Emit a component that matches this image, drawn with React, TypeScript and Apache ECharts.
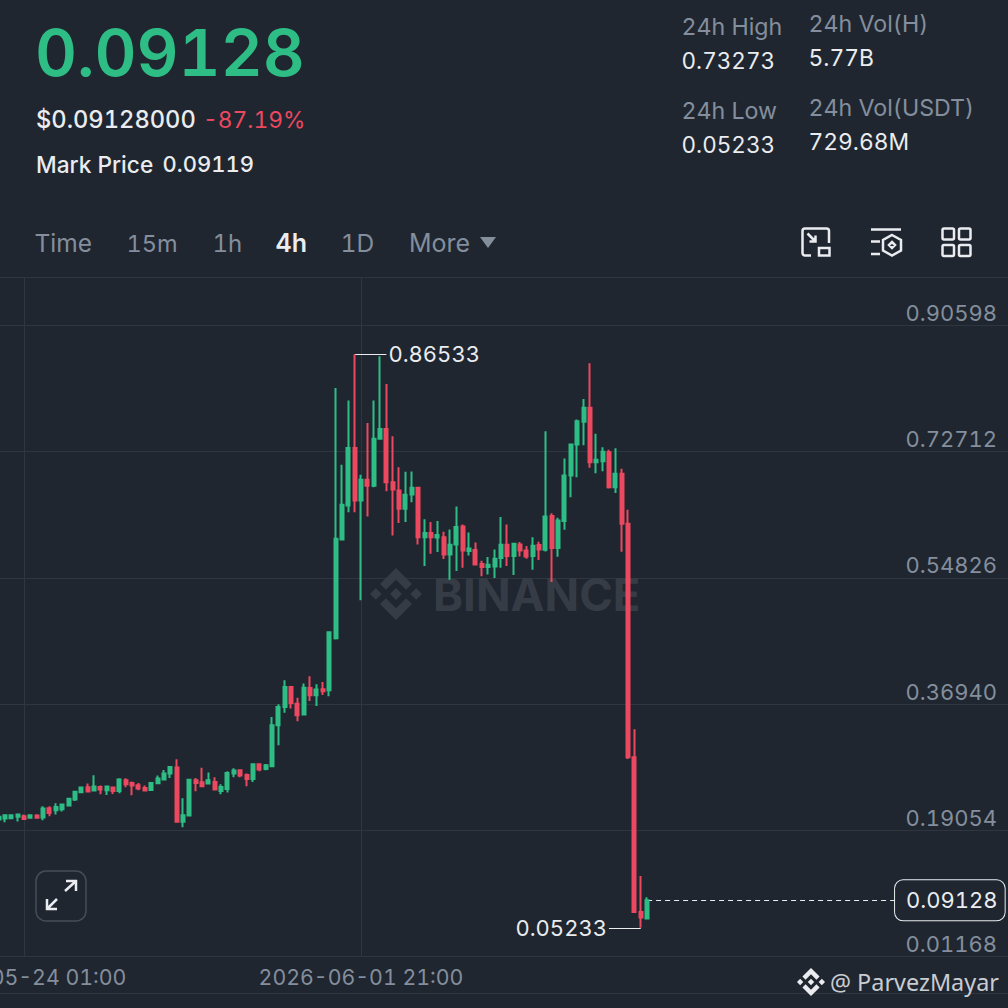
import React, { useEffect, useRef } from "react";
import * as echarts from "echarts";

const BG = "#1f2630";
const UP = "#2ebd85";
const DOWN = "#ec4860";
const GRID = "#30363f";
const MUTED = "#848e9c";
const WHITE = "#eaecef";
const FONT = "Inter";

// 4h candles, [open, close, low, high]
const candles: number[][] = [
  [0.2058, 0.2096, 0.205, 0.21],
  [0.2072, 0.2119, 0.202, 0.2133],
  [0.2077, 0.2119, 0.2067, 0.2124],
  [0.2096, 0.2129, 0.203, 0.2133],
  [0.2105, 0.2067, 0.2058, 0.2129],
  [0.2082, 0.2119, 0.2077, 0.2124],
  [0.2115, 0.2082, 0.2077, 0.2133],
  [0.2086, 0.2214, 0.2048, 0.2247],
  [0.2218, 0.2152, 0.2105, 0.2247],
  [0.219, 0.2237, 0.2129, 0.2289],
  [0.2204, 0.227, 0.2171, 0.228],
  [0.2256, 0.2351, 0.2251, 0.2355],
  [0.2341, 0.245, 0.2322, 0.2459],
  [0.2445, 0.2511, 0.244, 0.2516],
  [0.2516, 0.2454, 0.2445, 0.2568],
  [0.2469, 0.2525, 0.2464, 0.2686],
  [0.252, 0.2483, 0.2417, 0.2539],
  [0.2473, 0.2525, 0.2407, 0.253],
  [0.2511, 0.2464, 0.2421, 0.252],
  [0.2464, 0.2624, 0.2431, 0.2643],
  [0.2615, 0.2558, 0.2516, 0.2643],
  [0.2577, 0.2539, 0.2402, 0.2596],
  [0.2544, 0.2497, 0.2473, 0.2577],
  [0.2506, 0.2469, 0.2464, 0.2539],
  [0.2478, 0.2577, 0.2473, 0.2582],
  [0.2572, 0.2638, 0.2558, 0.2681],
  [0.2624, 0.2709, 0.2615, 0.2761],
  [0.2709, 0.2804, 0.2648, 0.2808],
  [0.2794, 0.2025, 0.2011, 0.2912],
  [0.2025, 0.2119, 0.1949, 0.236],
  [0.2115, 0.262, 0.211, 0.2624],
  [0.2615, 0.2577, 0.2459, 0.2648],
  [0.2587, 0.253, 0.2516, 0.279],
  [0.2568, 0.2615, 0.2558, 0.2723],
  [0.2591, 0.2483, 0.2473, 0.2657],
  [0.2464, 0.252, 0.2417, 0.2558],
  [0.2492, 0.2719, 0.244, 0.2742],
  [0.2709, 0.2752, 0.2657, 0.2785],
  [0.2756, 0.2681, 0.2657, 0.2771],
  [0.269, 0.2634, 0.253, 0.2709],
  [0.2634, 0.2841, 0.2591, 0.2846],
  [0.2841, 0.2766, 0.2742, 0.2851],
  [0.2775, 0.2827, 0.2756, 0.2846],
  [0.2813, 0.3394, 0.2804, 0.3512],
  [0.3394, 0.3653, 0.311, 0.3691],
  [0.3653, 0.3936, 0.3573, 0.4031],
  [0.3936, 0.371, 0.363, 0.3951],
  [0.37, 0.3535, 0.345, 0.3785],
  [0.3545, 0.3927, 0.3535, 0.3984],
  [0.3922, 0.3818, 0.3738, 0.4088],
  [0.3818, 0.3899, 0.3667, 0.3974],
  [0.3903, 0.3875, 0.3823, 0.4007],
  [0.3891, 0.4712, 0.3806, 0.472],
  [0.4627, 0.6037, 0.461, 0.8175],
  [0.6027, 0.6518, 0.6013, 0.7085],
  [0.6509, 0.7325, 0.6414, 0.7996],
  [0.7325, 0.658, 0.6414, 0.86533],
  [0.658, 0.6872, 0.5164, 0.6943],
  [0.6872, 0.6787, 0.6353, 0.7679],
  [0.6787, 0.7453, 0.6768, 0.7996],
  [0.7453, 0.7594, 0.7444, 0.8623],
  [0.7594, 0.6839, 0.6712, 0.8232],
  [0.6839, 0.6735, 0.6084, 0.7491],
  [0.6721, 0.6462, 0.6259, 0.7052],
  [0.6462, 0.666, 0.6273, 0.6986],
  [0.6665, 0.6759, 0.6556, 0.699],
  [0.6759, 0.606, 0.5957, 0.6765],
  [0.606, 0.6117, 0.565, 0.6315],
  [0.6117, 0.606, 0.5824, 0.6273],
  [0.6056, 0.6089, 0.5848, 0.6287],
  [0.606, 0.5815, 0.5749, 0.6136],
  [0.5815, 0.5952, 0.5456, 0.6169],
  [0.5957, 0.6202, 0.5579, 0.6495],
  [0.6212, 0.5872, 0.5626, 0.624],
  [0.5862, 0.59, 0.5801, 0.6127],
  [0.5876, 0.5673, 0.5669, 0.5985],
  [0.5678, 0.5636, 0.5504, 0.5725],
  [0.5636, 0.5669, 0.5532, 0.5777],
  [0.5645, 0.5754, 0.548, 0.5886],
  [0.5763, 0.5952, 0.5626, 0.6344],
  [0.5952, 0.5791, 0.565, 0.624],
  [0.5791, 0.5966, 0.5522, 0.598],
  [0.5957, 0.5872, 0.5787, 0.599],
  [0.5872, 0.5787, 0.5754, 0.5933],
  [0.5791, 0.5938, 0.5598, 0.606],
  [0.5947, 0.5886, 0.5735, 0.5994],
  [0.5881, 0.6353, 0.5858, 0.7561],
  [0.6358, 0.5905, 0.5423, 0.64],
  [0.5905, 0.6296, 0.5782, 0.6334],
  [0.6287, 0.6934, 0.6164, 0.7174],
  [0.6934, 0.7373, 0.6627, 0.7378],
  [0.7373, 0.7703, 0.691, 0.7727],
  [0.7694, 0.7892, 0.7363, 0.8019],
  [0.7892, 0.7122, 0.7042, 0.8524],
  [0.7122, 0.7156, 0.6967, 0.7524],
  [0.7137, 0.7269, 0.6995, 0.7335],
  [0.7264, 0.6768, 0.675, 0.7297],
  [0.6768, 0.6957, 0.6684, 0.7321],
  [0.6957, 0.6249, 0.5853, 0.7028],
  [0.6249, 0.2942, 0.2917, 0.6448],
  [0.2942, 0.0747, 0.0742, 0.3338],
  [0.0747, 0.0668, 0.05233, 0.1256],
  [0.0657, 0.09128, 0.065, 0.0955],
];

const priceTicks = [0.01168, 0.19054, 0.3694, 0.54826, 0.72712, 0.90598];
const yMin = 0.01168;
const yMax = 0.97396;
const highPrice = 0.86533;
const lowPrice = 0.05233;
const lastPrice = 0.09128;
const timeLabelIndexes = [4, 57];
const slotCount = 160;
const highIndex = 56;
const lowIndex = 101;
const lastIndex = 102;

const pad = (n: number) => String(n).padStart(2, "0");
const firstSlot = Date.UTC(2026, 4, 23, 9);
const categories = Array.from({ length: slotCount }, (_, i) => {
  const d = new Date(firstSlot + i * 4 * 3600 * 1000);
  return `${d.getUTCFullYear()}-${pad(d.getUTCMonth() + 1)}-${pad(d.getUTCDate())} ${pad(d.getUTCHours())}:${pad(d.getUTCMinutes())}`;
});

const LOGO =
  "M9.79 13.45 16 7.24l6.21 6.21 3.61-3.61L16 0 6.18 9.82l3.61 3.63zM0 16l3.61-3.61L7.22 16l-3.61 3.61L0 16zm9.79 2.55L16 24.76l6.21-6.21 3.61 3.61L16 32l-9.82-9.82 3.61-3.63zM24.78 16l3.61-3.61L32 16l-3.61 3.61L24.78 16zM19.67 16 16 12.33 12.33 16 16 19.67 19.67 16z";
const ICON_EXPAND =
  "M822 228.5H805a2.5 2.5 0 0 0-2.5 2.5V253a2.5 2.5 0 0 0 2.5 2.5H811M829 243V231a2.5 2.5 0 0 0-2.5-2.5H820M807.5 233.5L815.5 241.5M815.5 235.5V241.5H809.5M819 248H829.5V255.5H819Z";
const ICON_SETTINGS =
  "M871 229.5H901M871 241.5H880M871 254H880M892 235L901 240V250.5L892 255.5L883 250.5V240ZM892 242L895 245L892 248L889 245Z";
const ICON_GRID =
  "M944 228.5H952.5a1.5 1.5 0 0 1 1.5 1.5V238a1.5 1.5 0 0 1-1.5 1.5H944a1.5 1.5 0 0 1-1.5-1.5V230a1.5 1.5 0 0 1 1.5-1.5ZM960.5 228.5H969a1.5 1.5 0 0 1 1.5 1.5V238a1.5 1.5 0 0 1-1.5 1.5H960.5a1.5 1.5 0 0 1-1.5-1.5V230a1.5 1.5 0 0 1 1.5-1.5ZM944 245H952.5a1.5 1.5 0 0 1 1.5 1.5V254.5a1.5 1.5 0 0 1-1.5 1.5H944a1.5 1.5 0 0 1-1.5-1.5V246.5a1.5 1.5 0 0 1 1.5-1.5ZM960.5 245H969a1.5 1.5 0 0 1 1.5 1.5V254.5a1.5 1.5 0 0 1-1.5 1.5H960.5a1.5 1.5 0 0 1-1.5-1.5V246.5a1.5 1.5 0 0 1 1.5-1.5Z";
const ICON_ARROWS =
  "M47 909L57 899M47 899V909H57M65 891L76 881M66 881H76V891";

echarts.graphic.registerShape("bnbLogo", echarts.graphic.extendPath(LOGO as any, {}) as any);
echarts.graphic.registerShape("iconExpand", echarts.graphic.extendPath(ICON_EXPAND as any, {}) as any);
echarts.graphic.registerShape("iconSettings", echarts.graphic.extendPath(ICON_SETTINGS as any, {}) as any);
echarts.graphic.registerShape("iconGrid", echarts.graphic.extendPath(ICON_GRID as any, {}) as any);
echarts.graphic.registerShape("iconArrows", echarts.graphic.extendPath(ICON_ARROWS as any, {}) as any);

const txt = (
  text: string,
  x: number,
  y: number,
  size: number,
  fill: string,
  weight: number | string = 400,
  family: string = FONT
) => ({
  type: "text",
  x,
  y,
  z: 1,
  silent: true,
  style: { text, fill, fontSize: size, fontWeight: weight, fontFamily: family, align: "left", verticalAlign: "middle" },
});

const stroke = (type: string) => ({
  type,
  x: 0,
  y: 0,
  z: 1,
  silent: true,
  style: { fill: "none", stroke: WHITE, lineWidth: 2.5 },
});

const hline = (y: number) => ({
  type: "line",
  z: 0,
  silent: true,
  shape: { x1: 0, y1: y, x2: 1008, y2: y },
  style: { stroke: GRID, lineWidth: 1 },
});

export default function App() {
  const ref = useRef<HTMLDivElement>(null);
  useEffect(() => {
    document.body.style.margin = "0";
    document.body.style.background = BG;
    const chart = echarts.init(ref.current!, undefined, { renderer: "svg" });
    chart.setOption({
      animation: false,
      backgroundColor: BG,
      textStyle: { fontFamily: FONT },
      grid: { left: -4.6, width: 1017.28, top: 277.5, height: 679, outerBoundsMode: "none", containLabel: false },
      xAxis: {
        type: "category",
        data: categories,
        boundaryGap: true,
        axisLine: { show: true, lineStyle: { color: GRID, width: 1 } },
        axisTick: { show: false, alignWithLabel: true },
        splitLine: {
          show: true,
          alignWithLabel: true,
          interval: (i: number) => timeLabelIndexes.includes(i),
          lineStyle: { color: GRID, width: 1 },
        },
        axisLabel: {
          color: MUTED,
          fontSize: 21.3,
          fontFamily: FONT,
          margin: 10,
          hideOverlap: false,
          interval: (i: number) => timeLabelIndexes.includes(i),
        },
      },
      yAxis: {
        type: "value",
        position: "right",
        min: yMin,
        max: yMax,
        scale: true,
        axisLine: { show: false },
        axisTick: { show: false, customValues: priceTicks },
        splitLine: { show: true, lineStyle: { color: GRID, width: 1 } },
        axisLabel: {
          customValues: priceTicks,
          inside: true,
          margin: 15.7,
          color: MUTED,
          fontSize: 22,
          fontFamily: FONT,
          verticalAlign: "bottom",
          verticalAlignMinLabel: "bottom",
          verticalAlignMaxLabel: "bottom",
          lineHeight: 25,
          formatter: (v: number) => v.toFixed(5),
        },
      },
      series: [
        {
          type: "candlestick",
          data: candles,
          barWidth: 3.5,
          z: 5,
          itemStyle: {
            color: UP,
            color0: DOWN,
            borderColor: UP,
            borderColor0: DOWN,
            borderWidth: 2,
          },
          markLine: {
            silent: true,
            animation: false,
            symbol: ["none", "none"],
            data: [
              [
                {
                  coord: [highIndex, highPrice],
                  lineStyle: { color: WHITE, width: 1, type: "solid" },
                  label: { show: true, position: "end", distance: 2, formatter: highPrice.toFixed(5), color: WHITE, fontSize: 22, fontFamily: FONT },
                },
                { coord: [highIndex + 5, highPrice] },
              ],
              [
                {
                  coord: [lowIndex, lowPrice],
                  lineStyle: { color: WHITE, width: 1, type: "solid" },
                  label: { show: true, position: "end", distance: 2, formatter: lowPrice.toFixed(5), color: WHITE, fontSize: 22, fontFamily: FONT },
                },
                { coord: [lowIndex - 5, lowPrice] },
              ],
              [
                {
                  coord: [lastIndex, lastPrice],
                  lineStyle: { color: WHITE, width: 1, type: [5, 4] },
                  label: {
                    show: true,
                    position: "end",
                    distance: 0,
                    formatter: lastPrice.toFixed(5),
                    color: WHITE,
                    fontSize: 22,
                    fontFamily: FONT,
                    backgroundColor: BG,
                    borderColor: WHITE,
                    borderWidth: 1,
                    borderRadius: 8,
                    padding: [9, 16, 9, 11],
                  },
                },
                { coord: [lastIndex + 39, lastPrice] },
              ],
            ],
          },
        },
      ],
      graphic: [
        hline(277.5),
        hline(993.5),
        // header
        txt("0.09128", 35, 52, 65, UP, 600),
        txt("$0.09128000", 36, 119, 23.7, WHITE, 500),
        txt("-87.19%", 203, 119, 22.8, DOWN, 400),
        txt("Mark Price", 36, 164, 22.7, WHITE, 500),
        txt("0.09119", 162.5, 164, 22, WHITE, 500),
        txt("24h High", 681.5, 27, 23.2, MUTED),
        txt("0.73273", 681.5, 60, 22.5, WHITE),
        txt("24h Low", 681.5, 111, 23.2, MUTED),
        txt("0.05233", 681.5, 144, 22.5, WHITE),
        txt("24h Vol(H)", 808.5, 24, 23.2, MUTED),
        txt("5.77B", 808.5, 57, 22.8, WHITE),
        txt("24h Vol(USDT)", 808.5, 108, 23.2, MUTED),
        txt("729.68M", 808.5, 141, 22.8, WHITE),
        // tabs
        txt("Time", 34.5, 243, 24.5, MUTED),
        txt("15m", 126.5, 243, 23.5, MUTED),
        txt("1h", 212.5, 243, 24, MUTED),
        txt("4h", 275.5, 243, 25, WHITE, 600),
        txt("1D", 340.5, 243, 24.5, MUTED),
        txt("More", 409, 243, 25, MUTED),
        {
          type: "polygon",
          z: 1,
          silent: true,
          shape: { points: [[480, 237], [496, 237], [488, 248]] },
          style: { fill: MUTED },
        },
        stroke("iconExpand"),
        stroke("iconSettings"),
        stroke("iconGrid"),
        // watermark
        {
          type: "bnbLogo",
          x: 370,
          y: 568,
          scaleX: 1.625,
          scaleY: 1.625,
          z: 1,
          silent: true,
          style: { fill: "#363c46" },
        },
        txt("BINANCE", 433, 594, 45.5, "#363c46", 700),
        // expand button
        {
          type: "rect",
          z: 1,
          silent: true,
          shape: { x: 36, y: 871, width: 50, height: 50, r: 10 },
          style: { fill: BG, stroke: "#474d57", lineWidth: 1.5 },
        },
        {
          type: "iconArrows",
          x: 0,
          y: 0,
          z: 2,
          silent: true,
          style: { fill: "none", stroke: WHITE, lineWidth: 2.5 },
        },
        // signature
        {
          type: "bnbLogo",
          x: 797,
          y: 968,
          scaleX: 0.875,
          scaleY: 0.875,
          z: 2,
          silent: true,
          style: { fill: WHITE },
        },
        txt("@ ParvezMayar", 830, 982, 23.4, "#c9ccd1", 400, "Noto Sans"),
      ],
    });
    return () => chart.dispose();
  }, []);
  return (
    <>
      <style>{`svg text{font-variant-numeric:tabular-nums;font-feature-settings:"tnum" 1;}`}</style>
      <div ref={ref} style={{ position: "fixed", left: 0, top: 0, width: 1008, height: 1008 }} />
    </>
  );
}
